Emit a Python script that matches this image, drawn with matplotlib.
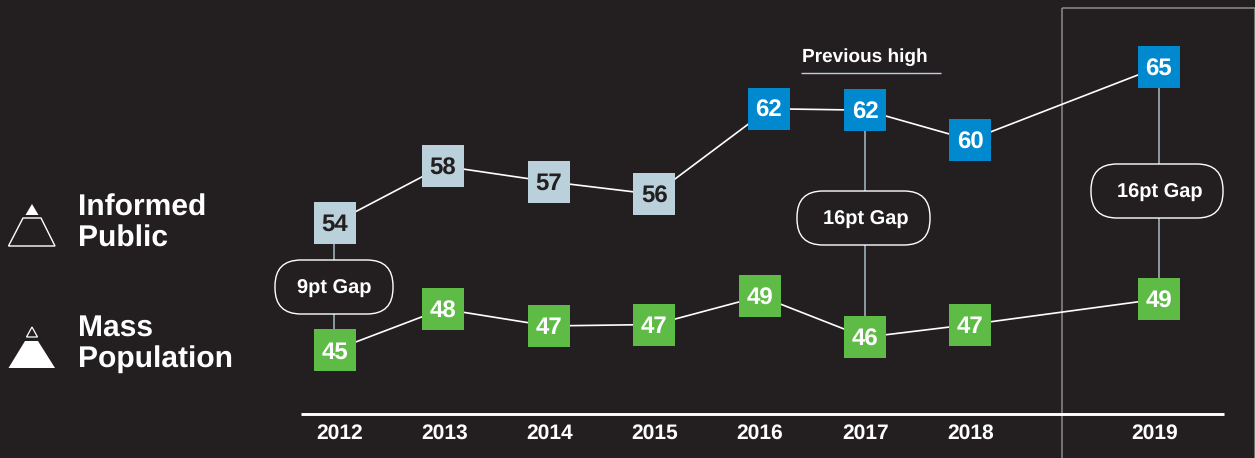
import matplotlib
matplotlib.use("Agg")
import matplotlib.pyplot as plt
from matplotlib.patches import FancyBboxPatch, Polygon
from matplotlib.transforms import Affine2D

years = ["2012", "2013", "2014", "2015", "2016", "2017", "2018", "2019"]
year_pos = [0.035, 1.03, 2.02, 3.01, 4.0, 5.0, 6.0, 7.73]

informed_x = [-0.01, 1.01, 2.01, 3.01, 4.09, 5.0, 5.99, 7.77]
informed = [54.0, 58.0, 56.9, 56.0, 62.05, 61.95, 59.85, 65.0]
mass_x = [-0.01, 1.01, 2.01, 3.01, 4.01, 5.0, 5.99, 7.77]
mass = [45.0, 47.9, 46.7, 46.8, 48.8, 45.9, 46.8, 48.6]

gap_labels = ["9pt Gap", "16pt Gap", "16pt Gap"]
gap_index = [0, 5, 7]
gap_x = [-0.015, 5.0, 7.77]
legend_labels = ["Informed\nPublic", "Mass\nPopulation"]
note = "Previous high"

BG = "#231F20"
BLUE = "#0089CF"
PALE = "#BAD1DC"
GREEN = "#5DBB46"
WHITE = "#FFFFFF"
LINK = "#A5BCC8"
FRAME = "#8A8C8E"

plt.rcParams["font.family"] = ["Liberation Sans", "DejaVu Sans"]
plt.rcParams["font.weight"] = "bold"
plt.rcParams["text.hinting"] = "no_hinting"
plt.rcParams["text.hinting_factor"] = 1

fig = plt.figure(figsize=(12.55, 4.58), dpi=100, facecolor=BG)
ax = fig.add_axes([0, 0, 1, 1], facecolor=BG)
ax.set_xlim((0 - 335.7) / 105.9, (1255 - 335.7) / 105.9)
ax.set_ylim(45 - 108 / 14.15, 45 + 350 / 14.15)
ax.axis("off")

# layout helper: reference pixel coordinates (origin top-left)
px = Affine2D().scale(1, -1).translate(0, 458)
PT = 1 / 14.15  # one pixel in value units


def seg(xs, ys, color, lw, z=1):
    ax.plot(xs, ys, color=color, lw=lw, transform=px, zorder=z, solid_capstyle="butt", clip_on=False)


# frame around 2019 and baseline
seg([1062, 1062], [458, 8], FRAME, 1.1)
seg([1062, 1254.5, 1254.5], [8, 8, 458], FRAME, 1.1)
seg([301, 1224], [414, 414], WHITE, 2.1, z=2)

# connectors between the series
for i, gx in zip(gap_index, gap_x):
    ax.plot([gx, gx], [informed[i], mass[i]], color=LINK, lw=1.1, zorder=1)

# series lines
ax.plot(informed_x, informed, color=WHITE, lw=1.2, zorder=2)
ax.plot(mass_x, mass, color=WHITE, lw=1.2, zorder=2)

# squares and numbers
for i in range(len(informed)):
    c = PALE if i < 4 else BLUE
    tc = BG if i < 4 else WHITE
    ax.plot(informed_x[i], informed[i], "s", ms=30.4, color=c, mew=0, zorder=3)
    ax.text(informed_x[i], informed[i] - 2.2 * PT, f"{informed[i]:.0f}", color=tc, fontsize=17.6,
            ha="center", va="center", zorder=4)
for xv, v in zip(mass_x, mass):
    ax.plot(xv, v, "s", ms=30.4, color=GREEN, mew=0, zorder=3)
    ax.text(xv, v - 2.2 * PT, f"{v:.0f}", color=WHITE, fontsize=17.6, ha="center", va="center", zorder=4)

# gap pills
pills = [(275, 260, 118, 54), (797, 191, 133, 54), (1091, 164, 132, 54)]
text_cx = [334, 866, 1160]
for (x0, y0, w, h), label, cx in zip(pills, gap_labels, text_cx):
    r = 26
    p = FancyBboxPatch((x0 + r, y0 + r), w - 2 * r, h - 2 * r, boxstyle=f"round,pad={r},rounding_size={r}",
                       fc=BG, ec=WHITE, lw=1.0, transform=px, zorder=5, clip_on=False)
    ax.add_patch(p)
    ax.text(cx, y0 + h / 2 + 1.5, label, color=WHITE, fontsize=14.6, ha="center", va="center",
            transform=px, zorder=6)

# previous high note
ax.text(802, 57, note, color=WHITE, fontsize=13.9, ha="left", va="center", transform=px)
seg([801, 941], [73, 73], PALE, 1.0)

# year labels
for xv, y in zip(year_pos, years):
    ax.text(xv, 45 - (433 - 350) / 14.15, y, color=WHITE, fontsize=15.3, ha="center", va="center")

# legend text
for label, ys in zip(legend_labels, [(207.5, 238.5), (327.5, 359.5)]):
    for line, y in zip(label.split("\n"), ys):
        ax.text(78, y, line, color=WHITE, fontsize=21.7, ha="left", va="center", transform=px)

# legend pyramids
ax.add_patch(Polygon([(32, 204), (38.5, 215), (25.5, 215)], fc=WHITE, ec="none", transform=px))
ax.add_patch(Polygon([(23, 218), (41, 218), (55, 246), (8.5, 246)], fc="none", ec=WHITE, lw=1.0, transform=px))
ax.add_patch(Polygon([(32, 327), (37.5, 337), (26.5, 337)], fc="none", ec=WHITE, lw=0.9, transform=px))
ax.add_patch(Polygon([(25, 341), (38, 341), (55, 368), (8.5, 368)], fc=WHITE, ec="none", transform=px))

fig.savefig("out.png", dpi=100, facecolor=BG)
